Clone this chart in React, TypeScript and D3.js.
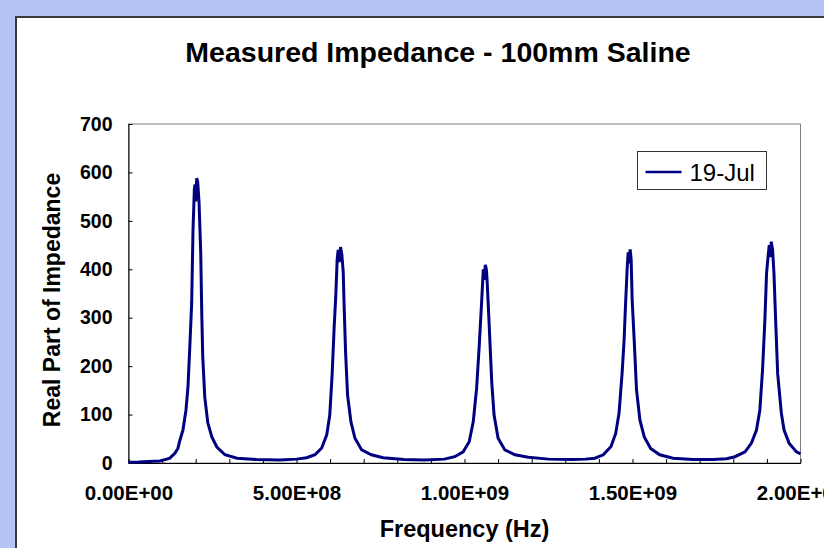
import React, { useEffect, useRef } from 'react';
import * as D3 from 'd3';

// frequency in MHz, real part of impedance in ohms
const freqMHz = [
    0, 30, 60, 93, 114, 123, 138, 147, 153, 162, 171, 177, 183, 188, 192, 196, 198, 200, 203, 206,
    210, 215, 218, 221, 227, 236, 248, 263, 287, 323, 380, 450, 500, 530, 555, 575, 590, 599, 606, 612,
    617, 621, 624, 627, 631, 635, 639, 642, 646, 652, 662, 674, 694, 723, 758, 820, 880, 940, 971, 996,
    1014, 1026, 1036, 1044, 1051, 1056, 1059, 1062, 1065, 1067, 1073, 1081, 1088, 1100, 1120, 1150, 1190, 1250, 1320, 1360,
    1388, 1413, 1436, 1450, 1460, 1469, 1475, 1479, 1484, 1487, 1490, 1493, 1496, 1499, 1505, 1512, 1522, 1535, 1554, 1581,
    1621, 1680, 1740, 1780, 1805, 1835, 1854, 1869, 1879, 1887, 1894, 1899, 1904, 1907, 1910, 1913, 1917, 1921, 1926, 1932,
    1943, 1951, 1966, 1988, 2000,
];

const realZ = [
    1.5, 2, 3, 4, 8, 10, 20, 30, 47, 68, 109, 157, 248, 330, 481, 565, 575, 540, 588, 580,
    537, 434, 310, 219, 136, 83, 54, 33, 17, 10, 7, 6, 8, 11, 17, 31, 58, 99, 182, 279,
    347, 420, 440, 415, 446, 430, 395, 319, 230, 140, 85, 51, 27, 17, 11, 7, 6, 8, 13, 23,
    44, 85, 154, 244, 333, 400, 378, 409, 400, 381, 292, 168, 99, 51, 27, 17, 12, 8, 7, 8,
    10, 17, 34, 61, 103, 185, 254, 323, 400, 435, 412, 441, 420, 337, 254, 151, 89, 54, 30, 17,
    10, 7, 7, 9, 13, 23, 41, 68, 109, 192, 295, 392, 430, 450, 425, 457, 440, 392, 295, 185,
    103, 68, 41, 23, 19,
];

const yTicks = [0, 100, 200, 300, 400, 500, 600, 700];
const xTicks = D3.range(0, 2001, 100);
const xLabelEvery = 500;

const seriesName = '19-Jul';
const chartTitle = 'Measured Impedance - 100mm Saline';
const xTitle = 'Frequency (Hz)';
const yTitle = 'Real Part of Impedance';

const dimensions = {
    width: 824,
    height: 548,
    margin: {
        left: 128.5,
        top: 124,
        right: 23.5,
        bottom: 85,
    }
}

const ctrDimensions = {
    width: dimensions.width - dimensions.margin.left - dimensions.margin.right,
    height: dimensions.height - dimensions.margin.top - dimensions.margin.bottom,
}

const font = 'Liberation Sans, Arial, sans-serif';
const lineColor = '#000080';

// 5e8 -> "5.00E+08"
const sciFormat = (mhz: number) => {
    const s = (mhz * 1e6).toExponential(2).toUpperCase();
    const [m, e] = s.split('E');
    return m + 'E' + e[0] + e.slice(1).padStart(2, '0');
}

const App = () => {

    const container = useRef(null);

    useEffect(() => {

        if (!container.current) return;

        D3.select(container.current).selectAll('*').remove();

        const svg = D3.select(container.current)
            .append('svg')
            .attr('width', dimensions.width)
            .attr('height', dimensions.height)
            .style('display', 'block');

        // page + chart panel
        svg.append('rect')
            .attr('width', dimensions.width)
            .attr('height', dimensions.height)
            .attr('fill', '#b3c4f4');

        svg.append('rect')
            .attr('x', 16)
            .attr('y', 17)
            .attr('width', 900)
            .attr('height', 600)
            .attr('fill', '#fff')
            .attr('stroke', '#3a3a3a')
            .attr('stroke-width', 2);

        svg.append('text')
            .attr('x', 438)
            .attr('y', 62)
            .attr('text-anchor', 'middle')
            .style('font-family', font)
            .style('font-weight', 'bold')
            .style('font-size', '28.5px')
            .text(chartTitle);

        const ctr = svg.append('g')
            .attr('transform', `translate(${dimensions.margin.left}, ${dimensions.margin.top})`);

        const xScale = D3.scaleLinear()
            .domain([0, 2000])
            .range([0, ctrDimensions.width]);

        const yScale = D3.scaleLinear()
            .domain([0, 700])
            .range([ctrDimensions.height, 0]);

        // plot frame (top / right in grey)
        ctr.append('rect')
            .attr('width', ctrDimensions.width)
            .attr('height', ctrDimensions.height)
            .attr('fill', '#fff')
            .attr('stroke', '#808080')
            .attr('stroke-width', 1);

        const line = D3.line<number>()
            .x((d, i) => xScale(freqMHz[i]))
            .y(d => yScale(d));

        const xAxis = D3.axisBottom(xScale)
            .tickValues(xTicks)
            .tickSizeInner(-4)
            .tickSizeOuter(0)
            .tickPadding(22)
            .tickFormat((d: any) => d % xLabelEvery === 0 ? sciFormat(d) : '');

        const xAxisGroup = ctr.append('g')
            .attr('transform', `translate(0, ${ctrDimensions.height})`)
            .call(xAxis);

        xAxisGroup.selectAll('text')
            .style('font-family', font)
            .style('font-weight', 'bold')
            .style('font-size', '20.5px')
            .attr('fill', '#000');

        const yAxis = D3.axisLeft(yScale)
            .tickValues(yTicks)
            .tickSizeInner(-4)
            .tickSizeOuter(0)
            .tickPadding(16);

        const yAxisGroup = ctr.append('g').call(yAxis);

        yAxisGroup.selectAll('text')
            .style('font-family', font)
            .style('font-weight', 'bold')
            .style('font-size', '19.5px')
            .attr('fill', '#000');

        [xAxisGroup, yAxisGroup].forEach(g => {
            g.select('.domain').attr('stroke', '#000');
            g.selectAll('.tick line').attr('stroke', '#000');
        });

        ctr.append('path')
            .datum(realZ)
            .attr('fill', 'none')
            .attr('stroke', lineColor)
            .attr('stroke-width', 3)
            .attr('stroke-linejoin', 'miter')
            .attr('d', line);

        // axis titles
        svg.append('text')
            .attr('x', dimensions.margin.left + ctrDimensions.width / 2)
            .attr('y', 537)
            .attr('text-anchor', 'middle')
            .style('font-family', font)
            .style('font-weight', 'bold')
            .style('font-size', '23.5px')
            .text(xTitle);

        svg.append('text')
            .attr('transform', 'translate(60, 300) rotate(-90)')
            .attr('text-anchor', 'middle')
            .style('font-family', font)
            .style('font-weight', 'bold')
            .style('font-size', '23px')
            .text(yTitle);

        // legend
        const legend = svg.append('g').attr('transform', 'translate(637.5, 151.5)');

        legend.append('rect')
            .attr('width', 129)
            .attr('height', 38)
            .attr('fill', '#fff')
            .attr('stroke', '#333')
            .attr('stroke-width', 1);

        legend.append('line')
            .attr('x1', 8)
            .attr('x2', 44)
            .attr('y1', 20.5)
            .attr('y2', 20.5)
            .attr('stroke', lineColor)
            .attr('stroke-width', 2.5);

        legend.append('text')
            .attr('x', 52)
            .attr('y', 29)
            .style('font-family', font)
            .style('font-size', '24px')
            .text(seriesName);

    }, [container.current])

    return (<div ref={container} style={{ position: 'absolute', left: 0, top: 0 }} />);

}

export default App;
